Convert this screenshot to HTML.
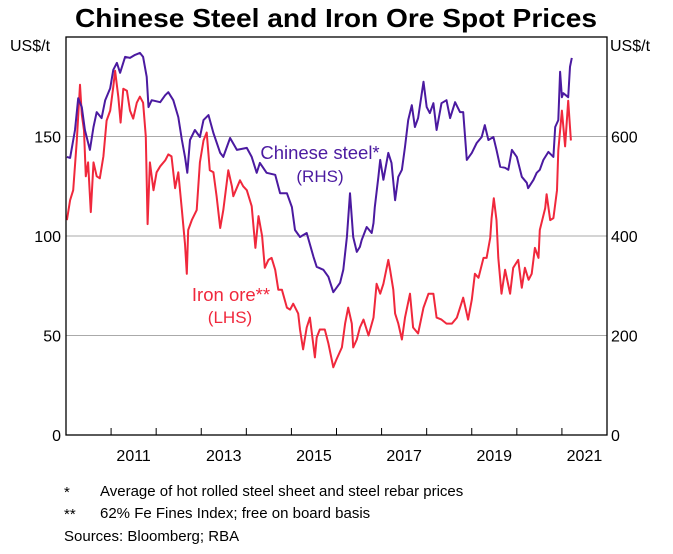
<!DOCTYPE html>
<html><head><meta charset="utf-8"><style>
body{margin:0;background:#fff;}
svg text{font-family:"Liberation Sans",Arial,sans-serif;}
</style></head><body>
<svg width="673" height="549" viewBox="0 0 673 549" id="chart">
<text x="336" y="27" text-anchor="middle" font-size="26" font-weight="bold" textLength="522" lengthAdjust="spacingAndGlyphs">Chinese Steel and Iron Ore Spot Prices</text>
<text x="10" y="51" font-size="16">US$/t</text>
<text x="610" y="51" font-size="16">US$/t</text>
<g id="grid"></g>
<g id="ticks"></g>
<g id="series"></g>
<rect x="66" y="37" width="541" height="398" fill="none" stroke="#000" stroke-width="1.3"/>
<text x="320" y="159" text-anchor="middle" font-size="18.5" fill="#4b1aa0">Chinese steel*</text>
<text x="320" y="182" text-anchor="middle" font-size="17" fill="#4b1aa0">(RHS)</text>
<text x="231" y="301" text-anchor="middle" font-size="18.5" fill="#f0283c">Iron ore**</text>
<text x="230" y="323" text-anchor="middle" font-size="17" fill="#f0283c">(LHS)</text>
<text x="64" y="497" font-size="15">*</text>
<text x="100" y="496" font-size="15">Average of hot rolled steel sheet and steel rebar prices</text>
<text x="64" y="519" font-size="15">**</text>
<text x="100" y="518" font-size="15">62% Fe Fines Index; free on board basis</text>
<text x="64" y="541" font-size="15">Sources: Bloomberg; RBA</text>
</svg>
<script>
const leftTicks=[0,50,100,150];
const rightTicks=[0,200,400,600];
const yearLabels=[2011,2013,2015,2017,2019,2021];
const steelDates=[2010.02,2010.09,2010.20,2010.27,2010.35,2010.42,2010.53,2010.61,2010.68,2010.79,2010.87,2010.98,2011.05,2011.13,2011.20,2011.31,2011.42,2011.53,2011.64,2011.71,2011.79,2011.83,2011.90,2012.09,2012.20,2012.27,2012.38,2012.49,2012.57,2012.64,2012.69,2012.75,2012.86,2012.97,2013.05,2013.16,2013.27,2013.42,2013.49,2013.64,2013.79,2014.01,2014.12,2014.23,2014.30,2014.45,2014.64,2014.75,2014.90,2015.01,2015.08,2015.19,2015.34,2015.49,2015.56,2015.71,2015.82,2015.93,2016.08,2016.15,2016.23,2016.30,2016.37,2016.45,2016.52,2016.56,2016.67,2016.78,2016.82,2016.85,2016.93,2016.97,2017.04,2017.15,2017.22,2017.30,2017.37,2017.45,2017.52,2017.59,2017.67,2017.74,2017.81,2017.93,2018.00,2018.07,2018.15,2018.22,2018.33,2018.44,2018.52,2018.63,2018.74,2018.81,2018.89,2019.00,2019.11,2019.22,2019.29,2019.37,2019.48,2019.55,2019.63,2019.74,2019.81,2019.89,2020.00,2020.11,2020.22,2020.25,2020.37,2020.44,2020.51,2020.59,2020.70,2020.81,2020.85,2020.92,2020.96,2021.00,2021.03,2021.14,2021.18,2021.22];
const steelValues=[559,557,613,677,659,613,573,619,649,637,673,697,734,748,728,760,758,764,768,760,720,659,673,669,683,689,673,639,593,559,527,593,613,599,633,643,607,567,559,597,573,577,559,527,547,527,523,486,486,458,412,398,406,358,338,332,318,287,306,332,398,486,398,368,378,392,418,406,426,458,519,553,513,567,547,472,519,533,579,633,663,619,637,710,659,647,667,613,667,673,637,669,649,649,553,567,587,599,623,593,599,573,539,537,533,573,559,519,507,496,513,527,533,553,569,559,619,633,730,679,687,679,740,758];
const ironDates=[2010.02,2010.09,2010.16,2010.24,2010.31,2010.35,2010.40,2010.44,2010.49,2010.55,2010.61,2010.68,2010.75,2010.83,2010.90,2010.98,2011.05,2011.09,2011.16,2011.21,2011.27,2011.35,2011.42,2011.49,2011.57,2011.64,2011.71,2011.77,2011.81,2011.86,2011.94,2012.01,2012.09,2012.20,2012.27,2012.34,2012.42,2012.49,2012.57,2012.64,2012.68,2012.71,2012.79,2012.90,2012.97,2013.05,2013.12,2013.19,2013.27,2013.34,2013.42,2013.49,2013.60,2013.68,2013.71,2013.86,2013.93,2014.01,2014.12,2014.20,2014.27,2014.35,2014.41,2014.49,2014.56,2014.64,2014.71,2014.79,2014.90,2014.97,2015.04,2015.15,2015.19,2015.26,2015.34,2015.41,2015.52,2015.56,2015.63,2015.74,2015.82,2015.93,2016.00,2016.12,2016.19,2016.26,2016.34,2016.37,2016.45,2016.52,2016.60,2016.71,2016.82,2016.89,2016.97,2017.04,2017.15,2017.19,2017.26,2017.30,2017.37,2017.45,2017.52,2017.63,2017.70,2017.81,2017.93,2018.04,2018.15,2018.22,2018.33,2018.44,2018.56,2018.67,2018.81,2018.92,2019.00,2019.07,2019.15,2019.26,2019.33,2019.41,2019.44,2019.49,2019.55,2019.59,2019.66,2019.74,2019.85,2019.92,2020.03,2020.11,2020.18,2020.26,2020.33,2020.40,2020.48,2020.51,2020.63,2020.66,2020.74,2020.81,2020.89,2020.92,2021.00,2021.07,2021.14,2021.20];
const ironValues=[108,118,123,148,176,161,153,130,137,112,137,130,129,140,158,163,175,183,170,157,174,173,163,159,167,170,167,150,106,137,123,132,135,138,141,140,124,132,113,96,81,103,108,113,137,148,152,133,132,120,104,113,133,125,120,128,125,123,115,94,110,100,84,88,89,83,73,73,64,63,66,61,53,43,54,59,39,49,53,53,46,34,38,44,56,64,56,44,48,54,58,50,59,76,71,76,88,83,73,61,56,48,59,71,54,51,64,71,71,59,58,56,56,59,69,58,68,81,79,89,89,99,109,119,108,89,71,83,71,84,88,74,84,78,81,94,89,103,114,121,108,109,123,143,163,145,168,148];

const NS='http://www.w3.org/2000/svg';
const X0=66,X1=607,YT=37,YB=435;
function xScale(t){return X0+(t-2010)/(2022-2010)*(X1-X0);}
function yLeft(v){return YB-v/200*(YB-YT);}
function yRight(v){return YB-v/800*(YB-YT);}
const grid=document.getElementById('grid'),ticks=document.getElementById('ticks'),series=document.getElementById('series');
leftTicks.forEach((v,i)=>{
  const y=yLeft(v);
  if(v>0){const l=document.createElementNS(NS,'line');
  l.setAttribute('x1',X0);l.setAttribute('x2',X1);l.setAttribute('y1',y);l.setAttribute('y2',y);
  l.setAttribute('stroke','#aaa');l.setAttribute('stroke-width','1');
  
  
  grid.appendChild(l);}
  const t=document.createElementNS(NS,'text');
  t.setAttribute('x',X0-5);t.setAttribute('y',y+6);t.setAttribute('text-anchor','end');t.setAttribute('font-size','16');
  t.textContent=v;
  
  
  ticks.appendChild(t);
  const r=document.createElementNS(NS,'text');
  r.setAttribute('x',X1+4);r.setAttribute('y',yRight(rightTicks[i])+6);r.setAttribute('font-size','16');
  r.textContent=rightTicks[i];
  
  
  ticks.appendChild(r);
});
for(let yr=2011;yr<=2021;yr++){
  const x=xScale(yr);
  const l=document.createElementNS(NS,'line');
  l.setAttribute('x1',x);l.setAttribute('x2',x);l.setAttribute('y1',YB);l.setAttribute('y2',YB-7);
  l.setAttribute('stroke','#000');l.setAttribute('stroke-width','1');
  
  
  ticks.appendChild(l);
}
yearLabels.forEach(yr=>{
  const t=document.createElementNS(NS,'text');
  t.setAttribute('x',xScale(yr+0.5));t.setAttribute('y',461);t.setAttribute('text-anchor','middle');t.setAttribute('font-size','16');
  t.textContent=yr;
  
  
  ticks.appendChild(t);
});
function drawLine(dates,vals,yf,color,name){
  const p=document.createElementNS(NS,'polyline');
  p.setAttribute('points',dates.map((d,i)=>xScale(d).toFixed(1)+','+yf(vals[i]).toFixed(1)).join(' '));
  p.setAttribute('fill','none');p.setAttribute('stroke',color);p.setAttribute('stroke-width','2');p.setAttribute('stroke-linejoin','round');
  
  
  series.appendChild(p);
}
drawLine(ironDates,ironValues,yLeft,'#f0283c','iron-ore-line');
drawLine(steelDates,steelValues,yRight,'#4b1aa0','chinese-steel-line');
</script>
</body></html>
